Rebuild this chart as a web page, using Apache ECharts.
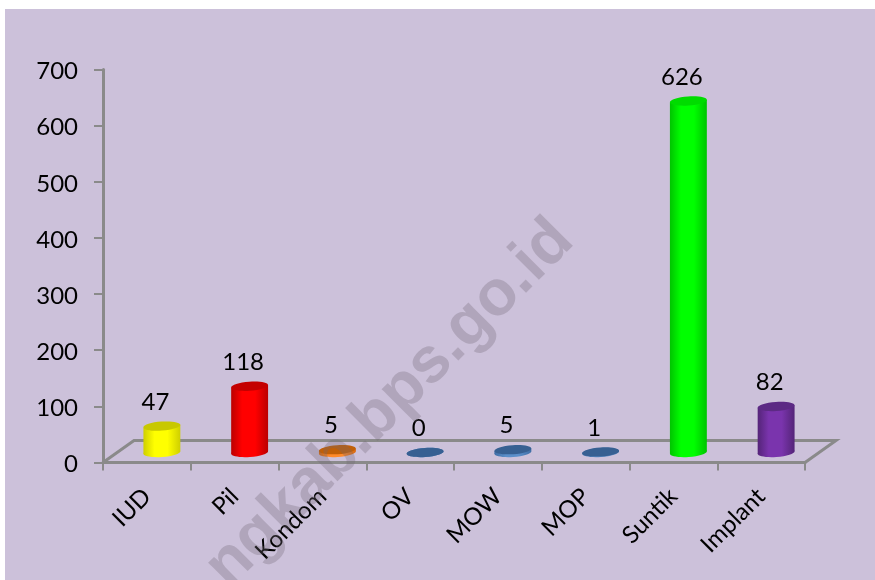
<!DOCTYPE html>
<html>
<head>
<meta charset="utf-8">
<script src="https://cdn.jsdelivr.net/npm/echarts@6/dist/echarts.min.js"></script>
<style>
  html, body { margin: 0; padding: 0; background: #fff; }
  #chart { width: 875px; height: 580px; }
</style>
</head>
<body>
<div id="chart"></div>
<script>
const categories = ['IUD', 'Pil', 'Kondom', 'OV', 'MOW', 'MOP', 'Suntik', 'Implant'];
const values = [47, 118, 5, 0, 5, 1, 626, 82];
const yTicks = [0, 100, 200, 300, 400, 500, 600, 700];

// side edge, side centre, top cap
const yellow = ['#cfcf00', '#ffff00', '#c8c800'];
const red = ['#bb0000', '#ff0000', '#c40000'];
const orange = ['#d96a10', '#ff8a2a', '#c05f08'];
const blue = ['#3f6ea6', '#5b8fca', '#376092'];
const green = ['#00c400', '#00ff00', '#00dc00'];
const purple = ['#542478', '#7a34ad', '#5c2a84'];
const barColors = [yellow, red, orange, blue, blue, blue, green, purple];

const fontFamily = 'Lato, "Open Sans", sans-serif';
const axisGrey = '#8a8a8a';

// the 3D look, in pixels
const depthX = 31;
const depthY = 22;
const barShift = 15;
const rx = 18.5;
const ry = 4.5;
const capLift = 10;
const tilt = 0.07;

function cap(x, y, fill) {
  return {
    type: 'ellipse',
    x: x,
    y: y,
    rotation: tilt,
    shape: { cx: 0, cy: 0, rx: rx, ry: ry },
    style: { fill: fill }
  };
}

function renderFloor(params, api) {
  const band = api.size([1, 0])[0];
  const left = api.coord([0, 0])[0] - band / 2;
  const right = api.coord([categories.length - 1, 0])[0] + band / 2;
  const y = api.coord([0, 0])[1];
  return {
    type: 'polyline',
    shape: {
      points: [
        [left, y],
        [left + depthX, y - depthY],
        [right + depthX, y - depthY],
        [right, y]
      ]
    },
    style: { stroke: axisGrey, lineWidth: 3, fill: null }
  };
}

function renderBar(params, api) {
  const i = api.value(0);
  const top = api.coord([i, api.value(1)]);
  const base = api.coord([i, 0]);
  const cx = top[0] + barShift;
  const topY = top[1] - capLift;
  const baseY = base[1] - capLift;
  const c = barColors[i];
  const side = {
    type: 'linear', x: 0, y: 0, x2: 1, y2: 0,
    colorStops: [
      { offset: 0, color: c[0] },
      { offset: 0.3, color: c[1] },
      { offset: 0.65, color: c[1] },
      { offset: 1, color: c[0] }
    ]
  };
  const dx = rx * Math.cos(tilt);
  const dy = rx * Math.sin(tilt);
  return {
    type: 'group',
    children: [
      cap(cx, baseY, side),
      {
        type: 'polygon',
        shape: {
          points: [
            [cx - dx, topY + dy],
            [cx + dx, topY - dy],
            [cx + dx, baseY - dy],
            [cx - dx, baseY + dy]
          ]
        },
        style: { fill: side }
      },
      cap(cx, topY, c[2]),
      {
        type: 'text',
        x: top[0] + 8.5,
        y: top[1] - 34,
        style: {
          text: String(api.value(1)),
          fill: '#000',
          font: '24px ' + fontFamily,
          align: 'center',
          verticalAlign: 'middle'
        }
      }
    ]
  };
}

const chart = echarts.init(document.getElementById('chart'));
chart.setOption({
  animation: false,
  backgroundColor: '#fff',
  textStyle: { fontFamily: fontFamily },
  graphic: {
    elements: [
      {
        type: 'rect',
        z: -10,
        shape: { x: 5, y: 9, width: 870, height: 571 },
        style: { fill: '#ccc1da' }
      },
      {
        type: 'text',
        z: 100,
        x: 586,
        y: 253,
        rotation: Math.PI / 4,
        style: {
          text: 'ngkab.bps.go.id',
          fill: 'rgba(113,103,117,0.3)',
          font: 'bold 64px "Liberation Sans", sans-serif',
          align: 'right',
          verticalAlign: 'bottom'
        }
      }
    ]
  },
  grid: { left: 103, right: 70, top: 69.5, bottom: 117.5 },
  xAxis: {
    type: 'category',
    data: categories,
    axisLine: { lineStyle: { color: axisGrey, width: 3 } },
    axisTick: { show: true, length: 8, interval: 0, lineStyle: { color: axisGrey, width: 2 } },
    axisLabel: { interval: 0, rotate: 45, margin: 30, fontSize: 24, color: '#000' }
  },
  yAxis: {
    type: 'value',
    min: yTicks[0],
    max: yTicks[yTicks.length - 1],
    interval: yTicks[1] - yTicks[0],
    splitLine: { show: false },
    axisLine: { show: true, lineStyle: { color: axisGrey, width: 3 } },
    axisTick: { show: true, length: 9, lineStyle: { color: axisGrey, width: 2 } },
    axisLabel: {
      margin: 25,
      color: '#000',
      formatter: '{t|{value}}',
      rich: { t: { fontSize: 24, color: '#000', padding: [4, 0, 0, 0] } }
    }
  },
  series: [
    {
      type: 'custom',
      renderItem: renderFloor,
      data: [[0, 0]],
      encode: { x: 0, y: 1 },
      silent: true,
      z: 1
    },
    {
      type: 'custom',
      renderItem: renderBar,
      data: values.map((v, i) => [i, v]),
      encode: { x: 0, y: 1 },
      clip: false,
      z: 3
    }
  ]
});
</script>
</body>
</html>
